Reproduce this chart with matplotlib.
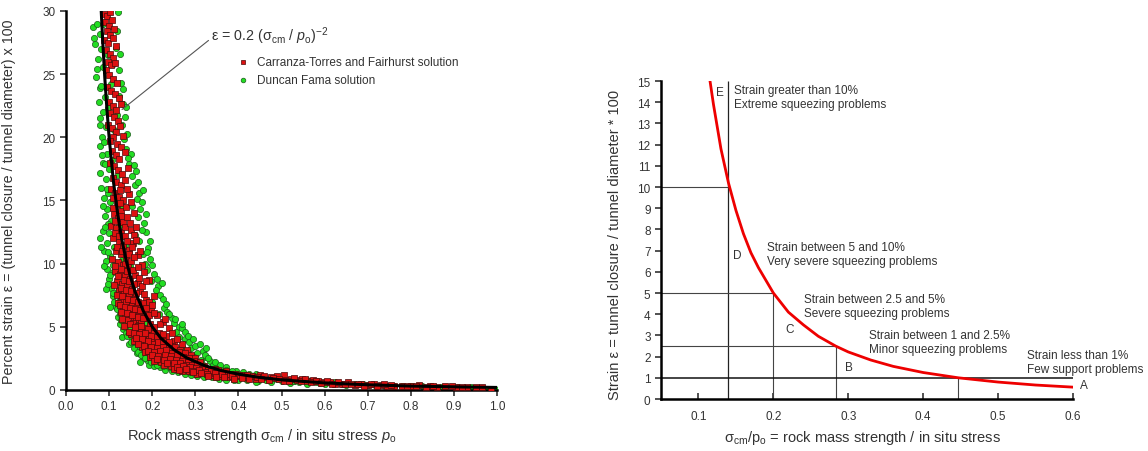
"""Squeezing strain vs. rock mass strength / in situ stress — two panels."""

import matplotlib
matplotlib.use("Agg")
import matplotlib.pyplot as plt

plt.rcParams["font.family"] = ["Liberation Sans", "DejaVu Sans"]
plt.rcParams["mathtext.fontset"] = "custom"
plt.rcParams["mathtext.rm"] = "Liberation Sans"
plt.rcParams["mathtext.it"] = "Liberation Sans:italic"

TEXT = "#333333"

# ---- left panel: simulated closures ----
RED_X = [
    0.088, 0.095, 0.102, 0.091, 0.099, 0.107, 0.094, 0.103, 0.112, 0.089, 0.098, 0.108, 0.116, 0.093, 0.101, 0.110, 0.097, 0.105, 0.114, 0.092,
    0.100, 0.108, 0.118, 0.096, 0.104, 0.113, 0.122, 0.099, 0.109, 0.117, 0.127, 0.103, 0.112, 0.121, 0.098, 0.107, 0.116, 0.126, 0.133, 0.110, 0.102,
    0.119, 0.128, 0.106, 0.115, 0.124, 0.136, 0.101, 0.111, 0.120, 0.131, 0.143, 0.108, 0.117, 0.127, 0.138, 0.104, 0.113, 0.122, 0.133, 0.147, 0.118, 0.108, 0.128, 0.157,
    0.112, 0.121, 0.132, 0.142, 0.105, 0.117, 0.127, 0.138, 0.150, 0.163, 0.110, 0.122, 0.133, 0.145, 0.156, 0.116, 0.127, 0.139, 0.150, 0.168, 0.107, 0.120, 0.132, 0.144, 0.176,
    0.113, 0.125, 0.137, 0.149, 0.160, 0.180, 0.118, 0.130, 0.142, 0.154, 0.167, 0.193, 0.123, 0.135, 0.147, 0.159, 0.172, 0.186, 0.128, 0.140, 0.152, 0.165, 0.205, 0.178,
    0.121, 0.133, 0.145, 0.157, 0.170, 0.183, 0.196, 0.138, 0.150, 0.162, 0.175, 0.188, 0.210, 0.143, 0.155, 0.168, 0.181, 0.194, 0.225, 0.130, 0.160, 0.173, 0.186, 0.200, 0.240, 0.215,
    0.150, 0.165, 0.178, 0.192, 0.205, 0.220, 0.232, 0.158, 0.172, 0.185, 0.199, 0.213, 0.228, 0.250, 0.176, 0.190, 0.204, 0.218, 0.232, 0.247, 0.268, 0.183, 0.197, 0.211, 0.225, 0.240, 0.255, 0.280,
    0.195, 0.210, 0.224, 0.238, 0.252, 0.266, 0.290, 0.205, 0.220, 0.235, 0.249, 0.262, 0.276, 0.300, 0.228, 0.243, 0.258, 0.272, 0.286, 0.310, 0.250, 0.266, 0.280, 0.295, 0.320,
    0.270, 0.285, 0.300, 0.315, 0.330, 0.345, 0.305, 0.322, 0.338, 0.355, 0.372, 0.340, 0.358, 0.375, 0.392, 0.410, 0.380, 0.398, 0.415, 0.432, 0.450, 0.440, 0.458, 0.475, 0.490, 0.505,
    0.510, 0.522, 0.535, 0.548, 0.560, 0.572, 0.585, 0.598, 0.612, 0.625, 0.640, 0.655, 0.670, 0.685, 0.700, 0.715, 0.730, 0.745, 0.760, 0.780, 0.800, 0.820, 0.845, 0.860, 0.880, 0.905, 0.930, 0.965, 0.985,
    # second pass, denser core of the band
    0.125, 0.141, 0.109, 0.126, 0.139, 0.150, 0.114, 0.127, 0.136, 0.148, 0.158, 0.113, 0.124, 0.142, 0.152, 0.162,
    0.118, 0.130, 0.136, 0.147, 0.158, 0.172, 0.113, 0.127, 0.141, 0.155, 0.166, 0.170, 0.121, 0.134, 0.145, 0.158, 0.176, 0.185, 0.112, 0.127, 0.139, 0.151, 0.163, 0.180,
    0.119, 0.131, 0.144, 0.156, 0.168, 0.192, 0.126, 0.137, 0.149, 0.160, 0.172, 0.186, 0.200, 0.128, 0.141, 0.153, 0.166, 0.179, 0.193, 0.205, 0.135, 0.148, 0.161, 0.175, 0.190, 0.203, 0.218, 0.230,
    0.145, 0.157, 0.170, 0.184, 0.198, 0.211, 0.226, 0.245, 0.163, 0.177, 0.190, 0.213, 0.226, 0.240, 0.258, 0.168, 0.182, 0.196, 0.210, 0.224, 0.238, 0.253, 0.265, 0.190, 0.205, 0.218, 0.232, 0.247, 0.262, 0.275,
    0.200, 0.214, 0.229, 0.243, 0.258, 0.272, 0.285, 0.212, 0.227, 0.242, 0.256, 0.270, 0.284, 0.298, 0.235, 0.250, 0.264, 0.279, 0.293, 0.305, 0.258, 0.272, 0.288, 0.302, 0.315,
    0.262, 0.278, 0.293, 0.308, 0.322, 0.337, 0.352, 0.295, 0.312, 0.328, 0.345, 0.362, 0.380, 0.330, 0.348, 0.366, 0.385, 0.402, 0.420, 0.390, 0.408, 0.425, 0.442, 0.460, 0.480, 0.452, 0.470, 0.495,
    0.505, 0.518, 0.530, 0.545, 0.555, 0.568, 0.580, 0.592, 0.605, 0.618, 0.632, 0.648, 0.662, 0.678, 0.692, 0.708, 0.722, 0.738, 0.755, 0.790, 0.812, 0.835, 0.852, 0.895, 0.918, 0.950,
]
RED_Y = [
    29.8, 29.6, 29.9, 29.1, 28.8, 29.3, 28.4, 28.1, 28.6, 27.7, 27.5, 27.9, 27.2, 26.9, 26.6, 26.3, 26.0, 25.7, 25.9, 25.3,
    24.9, 24.6, 24.3, 24.0, 23.7, 23.4, 23.1, 22.8, 22.5, 22.2, 22.6, 21.9, 21.6, 21.3, 21.0, 20.7, 20.4, 20.9, 20.1, 20.0, 19.7,
    19.5, 19.2, 18.9, 18.6, 18.3, 18.8, 18.0, 17.7, 17.4, 17.1, 17.6, 16.8, 16.5, 16.2, 16.6, 15.9, 15.6, 15.3, 15.0, 15.5, 14.7, 14.4, 14.2, 14.0,
    13.9, 13.6, 13.3, 13.7, 13.0, 12.8, 12.5, 12.2, 12.7, 12.9, 12.0, 11.7, 11.4, 11.1, 11.6, 11.0, 10.8, 10.5, 10.2, 10.7, 10.4, 10.1, 9.9, 9.7, 9.9,
    9.4, 9.2, 9.0, 8.8, 9.1, 9.3, 8.6, 8.4, 8.2, 8.0, 8.5, 8.7, 7.9, 7.7, 7.5, 7.3, 7.8, 7.1, 7.2, 7.0, 6.8, 6.6, 7.4, 6.9,
    6.9, 6.5, 6.3, 6.1, 5.9, 6.2, 6.4, 6.0, 5.8, 5.6, 5.4, 5.7, 5.9, 5.5, 5.3, 5.1, 4.9, 5.2, 5.4, 5.6, 4.8, 4.6, 4.4, 4.7, 4.9, 4.5,
    4.4, 4.3, 4.2, 4.0, 3.9, 4.1, 4.3, 3.9, 3.8, 3.7, 3.6, 3.5, 3.7, 3.9, 3.4, 3.3, 3.2, 3.1, 3.3, 3.5, 3.6, 3.0, 2.9, 2.8, 2.9, 3.0, 3.1, 3.2,
    2.6, 2.5, 2.6, 2.5, 2.6, 2.7, 2.8, 2.3, 2.2, 2.3, 2.2, 2.3, 2.4, 2.5, 2.0, 1.9, 2.0, 2.0, 2.1, 2.2, 1.7, 1.8, 1.7, 1.8, 1.9,
    1.5, 1.5, 1.6, 1.5, 1.6, 1.7, 1.3, 1.4, 1.3, 1.4, 1.5, 1.2, 1.1, 1.2, 1.3, 1.2, 1.0, 1.1, 1.0, 1.1, 1.2, 0.9, 1.0, 1.0, 1.1, 1.2,
    0.8, 0.9, 0.8, 0.9, 0.7, 0.8, 0.7, 0.6, 0.6, 0.5, 0.5, 0.6, 0.4, 0.5, 0.4, 0.5, 0.4, 0.3, 0.3, 0.3, 0.3, 0.4, 0.3, 0.2, 0.3, 0.2, 0.2, 0.2, 0.1,
    15.8, 15.9, 15.2, 14.8, 14.5, 14.9, 13.4, 13.8, 12.9, 13.2, 12.3, 12.4, 12.2, 11.8, 11.3, 11.9,
    11.3, 11.0, 10.0, 10.8, 10.5, 11.0, 9.8, 9.6, 9.4, 9.5, 9.7, 8.9, 9.0, 8.7, 8.6, 8.4, 8.2, 8.6, 8.3, 8.1, 7.9, 7.8, 7.7, 7.6,
    7.5, 7.4, 7.2, 7.1, 7.0, 7.0, 6.7, 6.6, 6.5, 6.4, 6.3, 6.5, 6.7, 6.2, 6.1, 5.9, 5.8, 5.7, 5.9, 6.1, 5.1, 5.2, 5.0, 5.1, 4.8, 5.0, 5.2, 5.6,
    4.6, 4.5, 4.4, 4.5, 4.3, 4.2, 4.4, 4.5, 4.1, 4.0, 3.9, 3.8, 3.9, 3.8, 4.0, 3.6, 3.5, 3.4, 3.3, 3.4, 3.3, 3.4, 3.2, 3.1, 3.0, 3.05, 3.15, 2.95, 3.0, 2.9,
    2.8, 2.7, 2.75, 2.7, 2.8, 2.6, 2.55, 2.45, 2.4, 2.45, 2.35, 2.3, 2.2, 2.3, 2.1, 2.15, 2.1, 1.95, 1.95, 2.0, 1.85, 1.9, 1.85, 1.75, 1.7,
    1.6, 1.65, 1.5, 1.55, 1.45, 1.5, 1.55, 1.4, 1.35, 1.25, 1.35, 1.25, 1.3, 1.1, 1.05, 1.0, 1.1, 1.2, 1.15, 0.9, 0.95, 0.9, 1.05, 1.1, 0.95, 0.85, 0.8, 0.85,
    0.7, 0.75, 0.95, 0.7, 0.85, 0.65, 0.75, 0.55, 0.7, 0.5, 0.6, 0.45, 0.5, 0.45, 0.35, 0.45, 0.35, 0.45, 0.4, 0.35, 0.3, 0.25, 0.35, 0.3, 0.25, 0.2,
]
GREEN_X = [
    0.062, 0.072, 0.078, 0.068, 0.081, 0.116, 0.120, 0.074, 0.086, 0.122, 0.070, 0.110, 0.128,
    0.078, 0.090, 0.124, 0.132, 0.076, 0.085, 0.118, 0.138, 0.080, 0.092, 0.130, 0.142, 0.084, 0.135,
    0.080, 0.095, 0.140, 0.150, 0.085, 0.100, 0.146, 0.158, 0.078, 0.092, 0.154, 0.082, 0.098, 0.160, 0.170, 0.088, 0.102, 0.165, 0.176, 0.095, 0.152,
    0.090, 0.105, 0.168, 0.180, 0.085, 0.100, 0.160, 0.185, 0.078, 0.095, 0.112, 0.170, 0.190, 0.088, 0.103, 0.178, 0.195, 0.092, 0.110, 0.183,
    0.095, 0.108, 0.188, 0.205, 0.100, 0.115, 0.198, 0.213, 0.105, 0.120, 0.208, 0.092, 0.110, 0.125, 0.218, 0.200, 0.115, 0.103,
    0.118, 0.130, 0.228, 0.235, 0.120, 0.138, 0.215, 0.245, 0.125, 0.145, 0.250, 0.262, 0.132, 0.130, 0.140, 0.255, 0.268, 0.145, 0.152,
    0.160, 0.170, 0.262, 0.275, 0.285, 0.165, 0.178, 0.270, 0.290, 0.300, 0.172, 0.188, 0.282, 0.305, 0.318,
    0.192, 0.205, 0.218, 0.298, 0.312, 0.325, 0.335, 0.230, 0.245, 0.260, 0.318, 0.340, 0.350, 0.275, 0.290, 0.305, 0.360, 0.370,
    0.320, 0.338, 0.355, 0.380, 0.395, 0.410, 0.372, 0.390, 0.425, 0.440, 0.420, 0.445, 0.465, 0.480, 0.500, 0.520, 0.540, 0.560, 0.580,
    0.600, 0.625, 0.650, 0.700, 0.740, 0.780, 0.825, 0.870, 0.940, 0.975, 0.995,
    # second pass, band edges
    0.065, 0.118, 0.071, 0.126, 0.082, 0.133, 0.079, 0.140, 0.087, 0.144, 0.083, 0.162, 0.090, 0.168, 0.094, 0.178,
    0.086, 0.172, 0.098, 0.186, 0.091, 0.176, 0.082, 0.195, 0.098, 0.188, 0.087, 0.200, 0.102, 0.210, 0.097, 0.222,
    0.108, 0.225, 0.112, 0.232, 0.122, 0.240, 0.125, 0.252, 0.128, 0.270, 0.136, 0.275, 0.142, 0.282, 0.150, 0.295, 0.158, 0.310, 0.168, 0.325,
    0.175, 0.322, 0.183, 0.330, 0.198, 0.345, 0.212, 0.358, 0.225, 0.372, 0.238, 0.385, 0.268, 0.400, 0.285, 0.418, 0.300, 0.435, 0.345, 0.455,
    0.400, 0.490, 0.440, 0.530, 0.475, 0.570, 0.520, 0.610, 0.560, 0.670, 0.720, 0.800, 0.850, 0.910,
    # third pass, inside the band
    0.085, 0.097, 0.104, 0.098, 0.112, 0.107, 0.121, 0.116, 0.130, 0.124, 0.138, 0.131, 0.149, 0.140, 0.158, 0.150, 0.170, 0.163, 0.188, 0.178,
    0.205, 0.196, 0.225, 0.215, 0.240, 0.255, 0.275, 0.290, 0.310, 0.330, 0.350, 0.385, 0.420, 0.470, 0.530, 0.590, 0.640, 0.690, 0.760, 0.880,
]
GREEN_Y = [
    28.7, 29.0, 28.2, 27.4, 27.0, 27.1, 29.9, 26.2, 25.6, 25.3, 24.8, 25.8, 24.3,
    23.9, 23.2, 23.3, 22.6, 22.8, 22.0, 21.8, 21.6, 21.5, 20.8, 21.0, 20.3, 20.0, 19.9,
    19.3, 18.7, 19.1, 18.7, 18.0, 17.5, 17.9, 17.8, 17.2, 16.7, 16.9, 16.0, 15.6, 16.2, 15.6, 15.2, 14.9, 15.1, 14.9, 14.3, 14.6,
    13.8, 13.4, 13.7, 13.2, 12.6, 12.4, 12.3, 12.5, 12.0, 11.6, 11.3, 11.8, 11.2, 11.0, 10.6, 10.8, 10.4, 10.2, 9.9, 10.0,
    9.6, 9.3, 9.5, 9.2, 8.8, 8.5, 8.6, 8.2, 8.1, 7.8, 7.9, 8.0, 7.4, 7.1, 7.5, 7.0, 6.6, 6.6,
    6.4, 6.1, 6.5, 6.2, 5.8, 5.4, 6.0, 5.7, 5.2, 4.9, 5.3, 5.0, 4.8, 4.2, 4.5, 4.6, 4.9, 3.6, 4.0,
    3.7, 3.2, 4.2, 4.0, 3.8, 2.9, 2.6, 3.4, 3.3, 3.5, 2.2, 2.4, 3.0, 2.9, 3.1,
    2.0, 1.9, 1.8, 2.6, 2.4, 2.6, 2.3, 1.6, 1.5, 1.4, 2.0, 2.0, 1.8, 1.3, 1.2, 1.1, 1.6, 1.8,
    1.0, 1.0, 0.9, 1.4, 1.5, 1.4, 0.8, 0.8, 1.3, 1.3, 0.8, 0.7, 0.8, 0.9, 0.7, 0.7, 0.6, 0.8, 0.6,
    0.5, 0.6, 0.4, 0.4, 0.3, 0.3, 0.3, 0.2, 0.2, 0.1, 0.1,
    27.9, 28.4, 25.4, 26.6, 24.1, 23.8, 21.0, 22.4, 19.6, 18.4, 18.6, 17.3, 17.9, 16.5, 15.9, 15.8,
    14.6, 14.3, 13.1, 13.9, 12.9, 12.7, 11.3, 11.8, 10.9, 10.9, 9.8, 9.9, 9.1, 8.8, 8.4, 8.5,
    7.7, 7.2, 7.0, 6.8, 6.9, 6.0, 6.0, 5.6, 5.5, 5.2, 5.0, 4.6, 4.3, 4.3, 3.8, 4.0, 3.3, 3.6, 3.0, 3.3,
    2.8, 2.8, 2.5, 2.5, 2.2, 2.2, 2.0, 2.0, 1.9, 1.6, 1.8, 1.5, 1.55, 1.3, 1.4, 1.2, 1.3, 1.1, 1.0, 1.0,
    0.8, 0.85, 0.65, 0.75, 0.6, 0.7, 0.55, 0.6, 0.5, 0.5, 0.35, 0.35, 0.25, 0.2,
    29.0, 26.5, 24.2, 22.3, 20.6, 18.2, 17.0, 15.4, 14.6, 13.0, 11.5, 10.3, 9.8, 8.3, 7.6, 6.9, 6.2, 5.5, 5.3, 4.6,
    4.4, 3.7, 3.6, 3.1, 2.9, 2.4, 2.2, 1.9, 1.7, 1.5, 1.3, 1.2, 1.0, 0.9, 0.7, 0.55, 0.5, 0.45, 0.35, 0.25,
]

# fitted curve eps = 0.2 (s/p)^-2
FIT_X = [0.080, 0.085, 0.090, 0.095, 0.100, 0.110, 0.120, 0.130, 0.140, 0.150, 0.160, 0.180, 0.200,
         0.220, 0.250, 0.280, 0.320, 0.360, 0.400, 0.450, 0.500, 0.600, 0.700, 0.800, 0.900, 1.000]
FIT_Y = [31.2, 27.7, 24.7, 22.2, 20.0, 16.5, 13.9, 11.8, 10.2, 8.9, 7.8, 6.2, 5.0,
         4.1, 3.2, 2.55, 1.95, 1.54, 1.25, 0.99, 0.80, 0.56, 0.41, 0.31, 0.25, 0.20]

# ---- right panel: squeezing classes ----
CLASS_X = [0.112, 0.115, 0.120, 0.130, 0.140, 0.150, 0.160, 0.170, 0.180, 0.200, 0.220, 0.240,
           0.260, 0.283, 0.300, 0.330, 0.360, 0.400, 0.447, 0.500, 0.550, 0.600]
CLASS_Y = [15.9, 15.1, 13.9, 11.8, 10.2, 8.9, 7.8, 6.9, 6.2, 5.0, 4.1, 3.5,
           2.96, 2.5, 2.22, 1.84, 1.54, 1.25, 1.0, 0.80, 0.66, 0.56]
STRAIN_LIMITS = [10, 5, 2.5, 1]
STRESS_LIMITS = [0.14, 0.20, 0.283, 0.447]
CLASS_LETTERS = ["E", "D", "C", "B", "A"]
LETTER_X = [0.128, 0.152, 0.222, 0.301, 0.615]
LETTER_Y = [14.5, 6.8, 3.3, 1.5, 0.65]
CLASS_TEXT = [
    "Strain greater than 10%\nExtreme squeezing problems",
    "Strain between 5 and 10%\nVery severe squeezing problems",
    "Strain between 2.5 and 5%\nSevere squeezing problems",
    "Strain between 1 and 2.5%\nMinor squeezing problems",
    "Strain less than 1%\nFew support problems",
]
TEXT_X = [0.148, 0.191, 0.241, 0.328, 0.539]
TEXT_Y = [14.85, 7.45, 5.0, 3.3, 2.35]

fig = plt.figure(figsize=(11.48, 4.52), dpi=100)
ax1 = fig.add_axes([0.0575, 0.135, 0.3755, 0.8385])
ax2 = fig.add_axes([0.5758, 0.115, 0.3589, 0.7035])

# left panel: green underneath, red on top as in the original
ax1.scatter(GREEN_X, GREEN_Y, s=20, marker="o", c="#22dd22", edgecolors="#1a5a1a",
            linewidths=0.5, zorder=2, label="Duncan Fama solution")
ax1.scatter(RED_X, RED_Y, s=17, marker="s", c="#dd1111", edgecolors="#4a0a0a",
            linewidths=0.5, zorder=3, label="Carranza-Torres and Fairhurst solution")
ax1.plot(FIT_X, FIT_Y, color="black", lw=2.2, zorder=4)
ax1.set_xlim(0, 1.0)
ax1.set_ylim(0, 30)
ax1.set_xticks([i / 10 for i in range(11)])
ax1.set_xticklabels([f"{i / 10:.1f}" for i in range(11)])
ax1.set_yticks(range(0, 31, 5))
for s in ("top", "right"):
    ax1.spines[s].set_visible(False)
for s in ("left", "bottom"):
    ax1.spines[s].set_linewidth(1.8)
ax1.tick_params(labelsize=8.5, colors=TEXT, width=1.2, length=4)

handles, labels = ax1.get_legend_handles_labels()
leg = ax1.legend(handles[::-1], labels[::-1], loc="upper left", bbox_to_anchor=(0.372, 0.893),
                 frameon=False, fontsize=8.5, handletextpad=0.2, labelspacing=0.5,
                 borderaxespad=0, markerscale=0.75)
for t in leg.get_texts():
    t.set_color(TEXT)

ax1.annotate(r"ε = 0.2 (σ$_{\mathrm{cm}}$ / $\mathit{p}_{\mathrm{o}}$)$^{-2}$",
             xy=(0.13, 22.2), xytext=(0.337, 28.1), fontsize=10.3, color=TEXT,
             ha="left", va="center",
             arrowprops=dict(arrowstyle="-", color="#555555", lw=0.8, shrinkA=0, shrinkB=0,
                             relpos=(0.0, 0.35)))

ax1.set_xlabel(r"Rock mass strength σ$_{\mathrm{cm}}$ / in situ stress $\mathit{p}_{\mathrm{o}}$",
               fontsize=10.5, color=TEXT)
ax1.xaxis.set_label_coords(0.455, -0.095)
ax1.set_ylabel("Percent strain ε = (tunnel closure / tunnel diameter) x 100",
               fontsize=10.3, color=TEXT)
ax1.yaxis.set_label_coords(-0.115, 0.5)

# right panel
ax2.plot(CLASS_X, CLASS_Y, color="#ee0000", lw=2.0, zorder=4, clip_on=True)
ax2.vlines(STRESS_LIMITS[0], 0, 15, color="#222222", lw=0.9)
for strain, stress in zip(STRAIN_LIMITS[1:], STRESS_LIMITS[1:]):
    ax2.vlines(stress, 0, strain, color="#444444", lw=0.8)
for strain, stress in zip(STRAIN_LIMITS[:3], STRESS_LIMITS[:3]):
    ax2.hlines(strain, 0.05, stress, color="#444444", lw=0.8)
ax2.hlines(STRAIN_LIMITS[3], 0.05, 0.6, color="#111111", lw=1.1)

for letter, lx, ly in zip(CLASS_LETTERS, LETTER_X, LETTER_Y):
    ax2.text(lx, ly, letter, fontsize=8.5, color=TEXT, ha="center", va="center", clip_on=False)
for txt, tx, ty in zip(CLASS_TEXT, TEXT_X, TEXT_Y):
    ax2.text(tx, ty, txt, fontsize=8.5, color=TEXT, ha="left", va="top",
             linespacing=1.2, clip_on=False)

ax2.set_xlim(0.05, 0.6)
ax2.set_ylim(0, 15)
ax2.set_xticks([0.1, 0.2, 0.3, 0.4, 0.5, 0.6])
ax2.set_xticklabels(["0.1", "0.2", "0.3", "0.4", "0.5", "0.6"])
ax2.set_yticks(range(0, 16))
for s in ("top", "right"):
    ax2.spines[s].set_visible(False)
for s in ("left", "bottom"):
    ax2.spines[s].set_linewidth(1.8)
ax2.tick_params(axis="x", direction="in", labelsize=8.5, colors=TEXT, width=1.2, length=4, pad=8)
ax2.tick_params(axis="y", direction="out", labelsize=8.5, colors=TEXT, width=1.2, length=4)
ax2.set_xlabel(r"σ$_{\mathrm{cm}}$/p$_{\mathrm{o}}$ = rock mass strength / in situ stress",
               fontsize=10.5, color=TEXT)
ax2.xaxis.set_label_coords(0.49, -0.09)
ax2.set_ylabel("Strain ε = tunnel closure / tunnel diameter * 100", fontsize=10.5, color=TEXT)
ax2.yaxis.set_label_coords(-0.095, 0.487)

fig.savefig("out.png", dpi=100)
